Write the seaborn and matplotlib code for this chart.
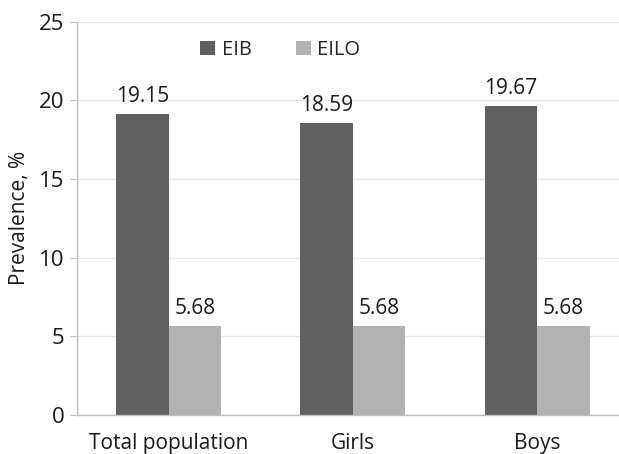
import pandas as pd
import matplotlib.pyplot as plt
import seaborn as sns
from matplotlib.ticker import FixedLocator

# data
groups = ['Total population', 'Girls', 'Boys']
eib = [19.15, 18.59, 19.67]
eilo = [5.68, 5.68, 5.68]

df = pd.DataFrame({
    'Group': groups * 2,
    'Type': ['EIB'] * 3 + ['EILO'] * 3,
    'Prevalence': eib + eilo,
})

sns.set_style("white")
plt.rcParams['font.family'] = ['Open Sans', 'DejaVu Sans']

fig = plt.figure(figsize=(6.19, 4.54), dpi=100)
ax = fig.add_axes([0.124, 0.086, 0.876, 0.866])

sns.barplot(data=df, x='Group', y='Prevalence', hue='Type',
            palette={'EIB': '#606060', 'EILO': '#b2b2b2'},
            width=0.57, gap=0, linewidth=0, ax=ax, legend=True)

for cont in ax.containers:
    ax.bar_label(cont, labels=[f'{v:.2f}' for v in cont.datavalues],
                 padding=5, fontsize=15, color='#1a1a1a')

ax.set_ylim(0, 25)
ax.set_yticks([0, 5, 10, 15, 20, 25])
ax.set_xlim(-0.5, 2.445)
ax.yaxis.grid(True, color='#e6e6e6', linewidth=1)
ax.set_axisbelow(True)

for s in ['top', 'right']:
    ax.spines[s].set_visible(False)
for s in ['left', 'bottom']:
    ax.spines[s].set_color('#bfbfbf')
    ax.spines[s].set_linewidth(1)

ax.tick_params(axis='y', labelsize=16, colors='#1a1a1a', length=5,
               color='#bfbfbf', direction='out', left=True, pad=4)
ax.tick_params(axis='x', labelsize=15, colors='#1a1a1a', length=0, pad=13)
ax.xaxis.set_minor_locator(FixedLocator([0.5, 1.5]))
ax.tick_params(axis='x', which='minor', length=12, color='#bfbfbf', direction='out')

ax.set_xlabel('')
ax.set_ylabel('Prevalence, %', fontsize=15, color='#1a1a1a', labelpad=6)

leg = ax.legend(loc='upper center', bbox_to_anchor=(0.375, 1.0), ncol=2,
                frameon=False, fontsize=14.5, handlelength=0.75, handleheight=0.75,
                columnspacing=2.2, handletextpad=0.3)

plt.savefig('out.png', dpi=100)
